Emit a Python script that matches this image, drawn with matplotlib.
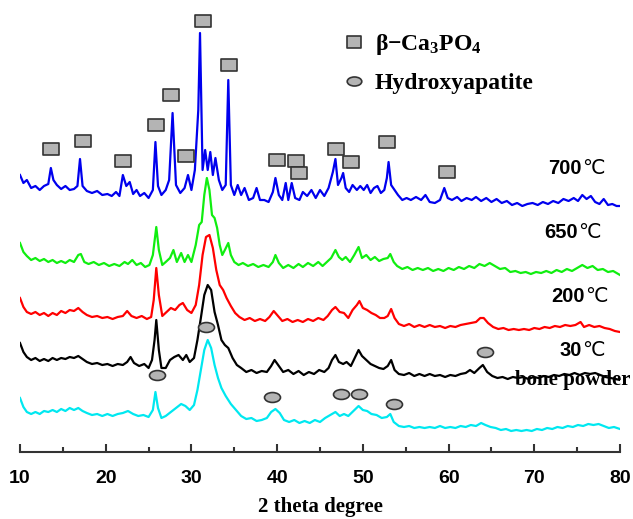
import matplotlib
matplotlib.use('Agg')
import matplotlib.pyplot as plt
from matplotlib.path import Path
from matplotlib.transforms import Affine2D
from matplotlib.lines import Line2D
import numpy as np

plt.rcParams['mathtext.fontset'] = 'custom'
plt.rcParams['mathtext.rm'] = 'Liberation Serif:bold'
plt.rcParams['mathtext.it'] = 'Liberation Serif:bold'
plt.rcParams['mathtext.bf'] = 'Liberation Serif:bold'

# ---- data (intensity in arbitrary units, curves already stacked) ----
x_700 = [10.0, 10.4, 10.8, 11.3, 11.8, 12.3, 12.8, 13.3, 13.6, 13.9, 14.3, 14.8, 15.3, 15.8, 16.3, 16.7,
         17.0, 17.3, 17.8, 18.4, 19.0, 19.6, 20.2, 20.7, 21.2, 21.6, 22.0, 22.4, 22.8, 23.2, 23.6, 24.0,
         24.5, 25.0, 25.5, 25.8, 26.1, 26.5, 27.0, 27.4, 27.8, 28.2, 28.7, 29.2, 29.6, 30.0, 30.4, 30.8,
         31.0, 31.3, 31.6, 31.9, 32.2, 32.5, 32.8, 33.2, 33.6, 34.0, 34.3, 34.6, 35.0, 35.4, 35.8, 36.2,
         36.7, 37.2, 37.6, 38.0, 38.5, 39.0, 39.5, 39.8, 40.2, 40.6, 41.0, 41.3, 41.7, 42.1, 42.6, 43.0,
         43.5, 44.0, 44.5, 45.0, 45.5, 46.0, 46.5, 46.8, 47.1, 47.5, 47.7, 48.0, 48.4, 48.8, 49.3, 49.7,
         50.1, 50.5, 50.9, 51.3, 51.7, 52.1, 52.5, 52.8, 53.0, 53.3, 53.7, 54.1, 54.6, 55.1, 55.6, 56.2,
         56.8, 57.3, 57.8, 58.4, 59.0, 59.5, 59.9, 60.4, 61.0, 61.5, 62.1, 62.7, 63.2, 63.8, 64.4, 65.0,
         65.6, 66.2, 66.8, 67.4, 68.0, 68.6, 69.2, 69.8, 70.4, 71.0, 71.6, 72.2, 72.8, 73.4, 74.0, 74.6,
         75.1, 75.6, 76.1, 76.6, 77.1, 77.6, 78.1, 78.6, 79.1, 79.6, 80.0]
y_700 = [277, 269, 272, 264, 266, 262, 266, 268, 284, 272, 267, 263, 266, 262, 263, 266,
         293, 266, 261, 259, 261, 257, 258, 256, 260, 256, 277, 266, 270, 258, 262, 256,
         259, 254, 262, 310, 266, 257, 262, 272, 339, 267, 259, 264, 277, 262, 282, 342,
         419, 282, 302, 282, 300, 277, 294, 272, 262, 267, 372, 267, 257, 267, 257, 264,
         252, 254, 264, 252, 252, 250, 260, 274, 257, 252, 269, 252, 269, 254, 252, 260,
         256, 262, 254, 262, 256, 264, 280, 293, 267, 274, 279, 264, 260, 267, 262, 266,
         262, 267, 259, 264, 266, 259, 262, 274, 290, 267, 262, 257, 252, 254, 252, 255,
         252, 257, 250, 249, 252, 264, 254, 252, 255, 251, 254, 252, 255, 251, 254, 250,
         253, 249, 251, 247, 249, 246, 248, 249, 247, 250, 248, 251, 249, 253, 251, 254,
         251, 257, 253, 256, 250, 248, 253, 247, 248, 246, 246]

x_650 = [10.0, 10.4, 10.8, 11.3, 11.8, 12.3, 12.8, 13.3, 13.8, 14.3, 14.8, 15.3, 15.8, 16.3, 16.8, 17.1,
         17.5, 18.0, 18.6, 19.2, 19.8, 20.4, 21.0, 21.6, 22.2, 22.6, 23.1, 23.6, 24.1, 24.6, 25.1, 25.5,
         25.9, 26.2, 26.6, 27.0, 27.5, 27.9, 28.3, 28.8, 29.2, 29.6, 30.0, 30.5, 30.9, 31.2, 31.5, 31.8,
         32.1, 32.4, 32.7, 33.0, 33.3, 33.6, 33.9, 34.3, 34.6, 35.0, 35.5, 36.0, 36.6, 37.2, 37.8, 38.4,
         39.0, 39.5, 39.8, 40.2, 40.7, 41.3, 41.9, 42.5, 43.0, 43.6, 44.2, 44.8, 45.3, 45.8, 46.3, 46.8,
         47.2, 47.6, 48.0, 48.5, 49.0, 49.5, 49.9, 50.4, 50.9, 51.4, 51.9, 52.4, 52.9, 53.2, 53.6, 54.0,
         54.6, 55.2, 55.8, 56.4, 57.0, 57.6, 58.2, 58.8, 59.4, 60.0, 60.6, 61.2, 61.8, 62.4, 63.0, 63.6,
         64.2, 64.8, 65.4, 66.0, 66.6, 67.2, 67.8, 68.4, 69.0, 69.6, 70.2, 70.8, 71.4, 72.0, 72.6, 73.2,
         73.8, 74.4, 75.0, 75.6, 76.2, 76.8, 77.4, 78.0, 78.6, 79.2, 80.0]
y_650 = [209, 200, 196, 192, 194, 191, 193, 190, 192, 189, 191, 189, 192, 190, 197, 198,
         190, 188, 190, 187, 189, 186, 188, 186, 190, 188, 192, 187, 189, 185, 187, 197,
         225, 202, 187, 190, 194, 202, 190, 199, 190, 197, 190, 207, 227, 230, 257, 274,
         262, 237, 234, 224, 207, 197, 202, 209, 197, 190, 187, 189, 186, 188, 185, 187,
         185, 190, 197, 189, 184, 187, 184, 188, 185, 189, 186, 190, 186, 190, 194, 202,
         195, 192, 195, 190, 197, 205, 194, 197, 192, 195, 191, 193, 194, 198, 190, 186,
         183, 185, 182, 184, 182, 184, 181, 183, 181, 184, 182, 185, 183, 186, 184, 188,
         186, 189, 186, 183, 184, 180, 181, 179, 180, 178, 180, 179, 181, 179, 182, 180,
         183, 181, 184, 187, 184, 186, 182, 183, 180, 181, 177]

x_200 = [10.0, 10.4, 10.8, 11.3, 11.8, 12.3, 12.8, 13.3, 13.8, 14.3, 14.8, 15.3, 15.8, 16.3, 16.8, 17.3,
         17.8, 18.4, 19.0, 19.6, 20.2, 20.8, 21.4, 22.0, 22.5, 23.0, 23.6, 24.2, 24.8, 25.3, 25.6, 25.9,
         26.2, 26.6, 27.1, 27.6, 28.1, 28.6, 29.0, 29.5, 30.0, 30.5, 30.9, 31.3, 31.7, 32.1, 32.5, 32.9,
         33.3, 33.7, 34.1, 34.6, 35.1, 35.6, 36.2, 36.8, 37.4, 38.0, 38.6, 39.1, 39.6, 40.1, 40.6, 41.2,
         41.8, 42.4, 43.0, 43.6, 44.2, 44.8, 45.4, 45.9, 46.4, 46.8, 47.3, 47.8, 48.3, 48.8, 49.3, 49.6,
         50.0, 50.5, 51.0, 51.5, 52.0, 52.5, 52.9, 53.3, 53.7, 54.2, 54.8, 55.4, 56.0, 56.6, 57.2, 57.8,
         58.4, 59.0, 59.6, 60.2, 60.8, 61.4, 62.0, 62.6, 63.2, 63.7, 64.1, 64.6, 65.2, 65.8, 66.4, 67.0,
         67.6, 68.2, 68.8, 69.4, 70.0, 70.6, 71.2, 71.8, 72.4, 73.0, 73.6, 74.2, 74.8, 75.4, 75.8, 76.4,
         77.0, 77.6, 78.2, 78.8, 79.4, 80.0]
y_200 = [154, 145, 140, 138, 140, 137, 139, 136, 139, 137, 141, 139, 142, 141, 144, 140,
         137, 135, 136, 134, 135, 133, 135, 136, 141, 136, 134, 136, 133, 135, 152, 184,
         157, 136, 140, 144, 142, 147, 149, 142, 139, 147, 167, 197, 215, 217, 204, 182,
         167, 162, 154, 146, 139, 135, 132, 134, 131, 133, 131, 135, 141, 136, 131, 133,
         130, 132, 130, 133, 131, 134, 132, 136, 142, 145, 140, 139, 134, 142, 147, 151,
         144, 142, 139, 137, 134, 134, 136, 143, 134, 128, 126, 128, 125, 127, 125, 127,
         125, 126, 124, 126, 125, 127, 128, 129, 130, 134, 134, 129, 125, 123, 124, 122,
         123, 122, 123, 122, 124, 123, 125, 124, 126, 125, 127, 126, 127, 130, 125, 127,
         125, 126, 124, 123, 121, 120]

x_30 = [10.0, 10.4, 10.8, 11.3, 11.8, 12.3, 12.8, 13.3, 13.8, 14.3, 14.8, 15.3, 15.8, 16.3, 16.8, 17.3,
        17.8, 18.4, 19.0, 19.6, 20.2, 20.8, 21.4, 22.0, 22.5, 22.9, 23.3, 23.9, 24.5, 25.0, 25.4, 25.7,
        25.9, 26.2, 26.5, 27.0, 27.5, 28.0, 28.5, 29.0, 29.4, 29.8, 30.3, 30.7, 31.1, 31.5, 31.9, 32.3,
        32.7, 33.1, 33.5, 33.9, 34.3, 34.8, 35.3, 35.8, 36.4, 37.0, 37.6, 38.2, 38.8, 39.3, 39.7, 40.2,
        40.7, 41.3, 41.9, 42.5, 43.1, 43.7, 44.3, 44.9, 45.5, 46.0, 46.4, 46.8, 47.2, 47.7, 48.1, 48.6,
        49.1, 49.5, 49.9, 50.4, 50.9, 51.4, 51.9, 52.4, 52.9, 53.3, 53.7, 54.2, 54.8, 55.4, 56.0, 56.6,
        57.2, 57.8, 58.4, 59.0, 59.6, 60.2, 60.8, 61.4, 62.0, 62.5, 63.0, 63.6, 64.0, 64.5, 65.1, 65.7,
        66.3, 66.9, 67.5, 68.1, 68.7, 69.3, 69.9, 70.5, 71.1, 71.7, 72.3, 72.9, 73.5, 74.1, 74.7, 75.3,
        75.9, 76.5, 77.1, 77.7, 78.3, 78.9, 79.5, 80.0]
y_30 = [109, 100, 95, 92, 94, 91, 93, 91, 94, 92, 94, 93, 95, 94, 96, 93,
        90, 88, 89, 87, 88, 86, 88, 87, 90, 95, 89, 86, 88, 84, 92, 112,
        132, 102, 84, 84, 92, 95, 97, 92, 97, 90, 94, 112, 134, 157, 167, 162,
        140, 127, 112, 107, 104, 94, 87, 84, 80, 82, 79, 81, 80, 86, 92, 86,
        80, 82, 78, 81, 77, 80, 78, 82, 80, 84, 92, 97, 90, 88, 90, 86,
        95, 102, 96, 92, 88, 86, 84, 83, 86, 92, 82, 78, 77, 79, 76, 78,
        76, 78, 76, 77, 75, 77, 76, 78, 79, 82, 79, 84, 87, 80, 76, 74,
        75, 73, 75, 74, 75, 73, 75, 74, 76, 75, 77, 76, 78, 77, 79, 77,
        79, 78, 79, 77, 75, 74, 73, 72]

x_bone = [10.0, 10.4, 10.8, 11.3, 11.8, 12.3, 12.8, 13.3, 13.8, 14.3, 14.8, 15.3, 15.8, 16.3, 16.8, 17.3,
          17.8, 18.4, 19.0, 19.6, 20.2, 20.8, 21.4, 22.0, 22.6, 23.2, 23.8, 24.4, 25.0, 25.5, 25.8, 26.1,
          26.5, 27.0, 27.6, 28.2, 28.8, 29.3, 29.8, 30.3, 30.7, 31.1, 31.5, 31.9, 32.3, 32.7, 33.1, 33.5,
          34.0, 34.6, 35.2, 35.8, 36.4, 37.0, 37.6, 38.2, 38.8, 39.3, 39.8, 40.3, 40.8, 41.4, 42.0, 42.6,
          43.2, 43.8, 44.4, 45.0, 45.6, 46.2, 46.8, 47.3, 47.8, 48.3, 48.9, 49.5, 50.0, 50.5, 51.0, 51.6,
          52.2, 52.8, 53.2, 53.6, 54.2, 54.8, 55.4, 56.0, 56.6, 57.2, 57.8, 58.4, 59.0, 59.6, 60.2, 60.8,
          61.4, 62.0, 62.6, 63.2, 63.8, 64.3, 64.9, 65.5, 66.1, 66.7, 67.3, 67.9, 68.5, 69.1, 69.7, 70.3,
          70.9, 71.5, 72.1, 72.7, 73.3, 73.9, 74.5, 75.1, 75.7, 76.3, 76.9, 77.5, 78.1, 78.7, 79.3, 80.0]
y_bone = [54, 45, 40, 38, 40, 38, 41, 40, 42, 40, 43, 41, 44, 42, 44, 41,
          39, 37, 38, 36, 38, 36, 38, 39, 41, 38, 36, 37, 35, 42, 60, 44,
          34, 36, 40, 44, 48, 46, 42, 47, 62, 82, 102, 112, 104, 87, 74, 64,
          56, 48, 42, 36, 33, 34, 31, 32, 34, 40, 43, 39, 32, 30, 32, 29,
          31, 29, 32, 30, 34, 37, 40, 36, 38, 36, 41, 46, 42, 41, 38, 37,
          34, 35, 38, 30, 26, 25, 26, 24, 25, 24, 25, 24, 26, 24, 25, 24,
          26, 25, 27, 26, 29, 27, 25, 24, 22, 23, 21, 22, 21, 22, 21, 23,
          22, 24, 23, 25, 24, 26, 25, 27, 26, 28, 27, 28, 26, 24, 25, 23]

# phase markers (peak positions, marker heights)
tcp_x = [13.6, 17.35, 22.0, 25.9, 27.6, 29.4, 31.35, 34.4, 40.0, 42.2, 42.55, 46.85, 48.6, 52.8, 59.8]
tcp_y = [303, 311, 291, 327, 357, 296, 431, 387, 292, 291, 279, 303, 290, 310, 280]
hap_x = [26.0, 31.7, 39.4, 47.45, 49.55, 53.6, 64.25]
hap_y = [77, 125, 55, 58, 58, 48, 100]

curve_labels = ['700', '650', '200', '30']
label_x = [75.57, 75.1, 75.92, 75.57]
label_y = [284, 220, 156, 102]

# marker shapes
rect = Path([(-1, -0.8), (1, -0.8), (1, 0.8), (-1, 0.8), (-1, -0.8)],
            [Path.MOVETO, Path.LINETO, Path.LINETO, Path.LINETO, Path.CLOSEPOLY])
oval = Path.unit_circle().transformed(Affine2D().scale(1, 0.62))

fig = plt.figure(figsize=(6.33, 5.19), dpi=100)
ax = fig.add_axes([20 / 633, 67 / 519, 600 / 633, 452 / 519])

ax.plot(x_bone, y_bone, color='#00e8f0', lw=1.6)
ax.plot(x_30, y_30, color='black', lw=1.6)
ax.plot(x_200, y_200, color='#ff0000', lw=1.6)
ax.plot(x_650, y_650, color='#10ee10', lw=1.6)
ax.plot(x_700, y_700, color='#0000ee', lw=1.6)

mk = dict(linestyle='none', markerfacecolor='#b4b4b4', markeredgecolor='#333333', markeredgewidth=1.2)
ax.plot(tcp_x, tcp_y, marker=rect, markersize=11.5, **mk)
ax.plot(hap_x, hap_y, marker=oval, markersize=11.5, **mk)

# temperature labels
for xp, lab, yy in zip(label_x, curve_labels, label_y):
    ax.text(xp, yy, lab, ha='right', va='center', fontsize=14.5, fontweight='bold',
            family='Liberation Sans')
    ax.text(xp, yy, '\u2103', ha='left', va='center', fontsize=14.5, family='DejaVu Sans')
ax.text(74.5, 72, 'bone powder', ha='center', va='center', fontsize=15, fontweight='bold',
        family='Liberation Serif')

handles = [Line2D([], [], marker=rect, markersize=10.5, **mk),
           Line2D([], [], marker=oval, markersize=10.5, **mk)]
ax.legend(handles, ['$\\beta$\u2212Ca$_3$PO$_4$', 'Hydroxyapatite'],
          loc='upper left', bbox_to_anchor=(345 / 633, 1 - 32 / 519), bbox_transform=fig.transFigure,
          frameon=False, handlelength=0.8, handletextpad=0.45, labelspacing=0.65, borderpad=0,
          borderaxespad=0, prop={'family': 'Liberation Serif', 'weight': 'bold', 'size': 17})

ax.set_xlim(10, 80)
ax.set_ylim(0, 452)
ax.set_xticks(np.arange(10, 81, 10))
ax.set_xticks(np.arange(15, 80, 10), minor=True)
ax.set_yticks([])
for s in ['left', 'right', 'top']:
    ax.spines[s].set_visible(False)
ax.spines['bottom'].set_linewidth(1.5)
ax.spines['bottom'].set_color('#333333')
ax.tick_params(axis='x', which='major', direction='in', length=6, width=1.5, color='#333333', pad=13)
ax.tick_params(axis='x', which='minor', direction='in', length=3.5, width=1.5, color='#333333')
for t in ax.get_xticklabels():
    t.set_fontsize(14)
    t.set_fontweight('bold')
    t.set_family('Liberation Sans')
ax.set_xlabel('2 theta degree', fontsize=15, fontweight='bold', family='Liberation Serif', labelpad=7)

fig.savefig('out.png', dpi=100)
